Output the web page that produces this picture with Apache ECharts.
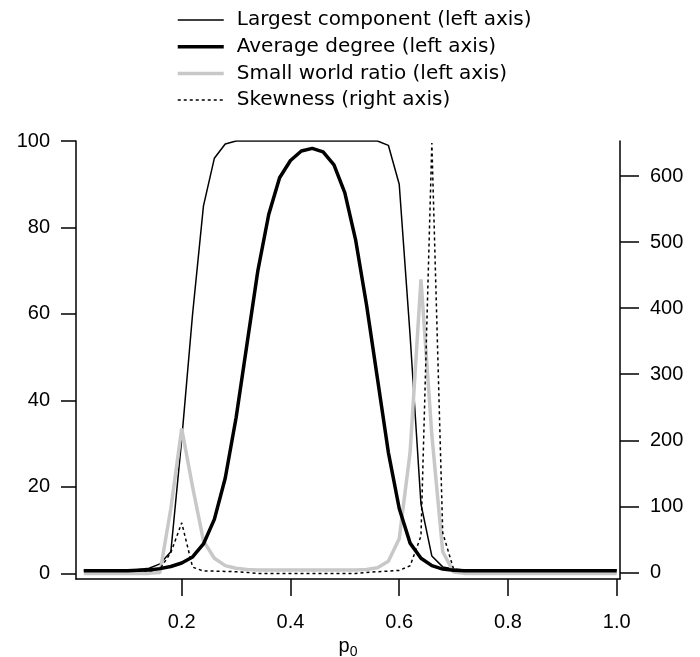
<!DOCTYPE html>
<html>
<head>
<meta charset="utf-8">
<script src="https://cdn.jsdelivr.net/npm/echarts@6/dist/echarts.min.js"></script>
<style>html,body{margin:0;padding:0;background:#fff;}#c{width:700px;height:657px;}</style>
</head>
<body>
<div id="c"></div>
<script>
const p0 = [0.02,0.04,0.06,0.08,0.10,0.12,0.14,0.16,0.18,0.20,0.22,0.24,0.26,0.28,0.30,0.32,0.34,0.36,0.38,0.40,0.42,0.44,0.46,0.48,0.50,0.52,0.54,0.56,0.58,0.60,0.62,0.64,0.66,0.68,0.70,0.72,0.74,0.76,0.78,0.80,0.82,0.84,0.86,0.88,0.90,0.92,0.94,0.96,0.98,1.00];
const largestComponent = [0.8,0.8,0.8,0.8,0.8,0.9,1.2,2.2,5,31,60,85,96,99.3,100,100,100,100,100,100,100,100,100,100,100,100,100,100,99,90,55,16,4,1.5,1.0,0.8,0.8,0.8,0.8,0.8,0.8,0.8,0.8,0.8,0.8,0.8,0.8,0.8,0.8,0.8];
const averageDegree = [0.6,0.6,0.6,0.6,0.6,0.7,0.8,1.1,1.6,2.4,3.8,6.8,12.5,22,36,53,70,83,91.5,95.5,97.7,98.3,97.5,94.5,88,77,62,45,28,15,7,3.5,1.8,1.0,0.7,0.6,0.6,0.6,0.6,0.6,0.6,0.6,0.6,0.6,0.6,0.6,0.6,0.6,0.6,0.6];
const smallWorld = [0,0,0,0,0,0,0,0.2,15,33.5,20,7.5,3.5,1.8,1.2,0.9,0.8,0.8,0.8,0.8,0.8,0.8,0.8,0.8,0.8,0.8,0.9,1.3,2.8,8,28,68,32,5,0.3,0,0,0,0,0,0,0,0,0,0,0,0,0,0,0];
const skewness = [2,2,2,2,2,2,2,5,30,75,8,2,2,1.5,1,0,-1.5,-1.5,-1.5,-1.5,-1.5,-1.5,-1.5,-1.5,-1.5,-1.5,0,1,2,3,10,55,650,60,5,2,2,2,2,2,2,2,2,2,2,2,2,2,2,2];
const xTicks = [0.2,0.4,0.6,0.8,1.0];
const leftTicks = [0,20,40,60,80,100];
const rightTicks = [0,100,200,300,400,500,600];
const names = ['Largest component (left axis)','Average degree (left axis)','Small world ratio (left axis)','Skewness (right axis)'];

const pair = arr => p0.map((x,i)=>[x, arr[i]]);
const numFont = {fontFamily:'Liberation Sans, Arial, sans-serif', fontSize:20, color:'#000'};
const chart = echarts.init(document.getElementById('c'), null, {renderer:'canvas'});
chart.setOption({
  animation:false,
  backgroundColor:'#fff',
  grid:{left:76,right:80,top:141,bottom:78,containLabel:false,outerBoundsMode:'none'},
  legend:{
    orient:'vertical', left:176, top:10, padding:0, itemWidth:46, itemHeight:20, itemGap:6.7,
    itemStyle:{opacity:0},
    textStyle:{fontFamily:'DejaVu Sans, sans-serif', fontSize:20, color:'#000', lineHeight:20, padding:[0,0,0,8]},
    data:[
      {name:names[0], lineStyle:{width:1.5,color:'#000',type:'solid'}},
      {name:names[1], lineStyle:{width:3.5,color:'#000',type:'solid'}},
      {name:names[2], lineStyle:{width:3.5,color:'#c8c8c8',type:'solid'}},
      {name:names[3], lineStyle:{width:1.5,color:'#000',type:[3,3]}}
    ]
  },
  xAxis:{
    type:'value', min:0.0056, max:1.006,
    name:'{p|p}{s|0}', nameLocation:'middle', nameGap:52,
    nameTextStyle:{rich:{p:{fontFamily:'Liberation Sans, Arial, sans-serif',fontSize:20,color:'#000'},s:{fontFamily:'Liberation Sans, Arial, sans-serif',fontSize:14,color:'#000',verticalAlign:'bottom',padding:[10,0,0,0]}}},
    axisLine:{show:true,onZero:false,lineStyle:{color:'#000',width:1.5}},
    axisTick:{show:true,inside:false,length:17,customValues:xTicks,lineStyle:{color:'#000',width:1.5}},
    axisLabel:Object.assign({margin:33,customValues:xTicks,formatter:v=>v.toFixed(1)},numFont),
    splitLine:{show:false}
  },
  yAxis:[
    {type:'value', min:-1.3, max:100, position:'left',
     axisLine:{show:true,lineStyle:{color:'#000',width:1.5}},
     axisTick:{show:true,length:15,customValues:leftTicks,lineStyle:{color:'#000',width:1.5}},
     axisLabel:Object.assign({margin:26,customValues:leftTicks},numFont),
     splitLine:{show:false}},
    {type:'value', min:-10, max:653, position:'right',
     axisLine:{show:true,lineStyle:{color:'#000',width:1.5}},
     axisTick:{show:true,length:19,customValues:rightTicks,lineStyle:{color:'#000',width:1.5}},
     axisLabel:Object.assign({margin:30,customValues:rightTicks},numFont),
     splitLine:{show:false}}
  ],
  series:[
    {name:names[0], type:'line', yAxisIndex:0, data:pair(largestComponent), symbol:'none', z:2,
     lineStyle:{color:'#000',width:1.5}, itemStyle:{color:'#000'}},
    {name:names[1], type:'line', yAxisIndex:0, data:pair(averageDegree), symbol:'none', z:4,
     lineStyle:{color:'#000',width:3.5}, itemStyle:{color:'#000'}},
    {name:names[2], type:'line', yAxisIndex:0, data:pair(smallWorld), symbol:'none', z:3,
     lineStyle:{color:'#c8c8c8',width:3.5}, itemStyle:{color:'#c8c8c8'}},
    {name:names[3], type:'line', yAxisIndex:1, data:pair(skewness), symbol:'none', z:5,
     lineStyle:{color:'#000',width:1.5,type:[3,3]}, itemStyle:{color:'#000'}}
  ]
});
</script>
</body>
</html>
